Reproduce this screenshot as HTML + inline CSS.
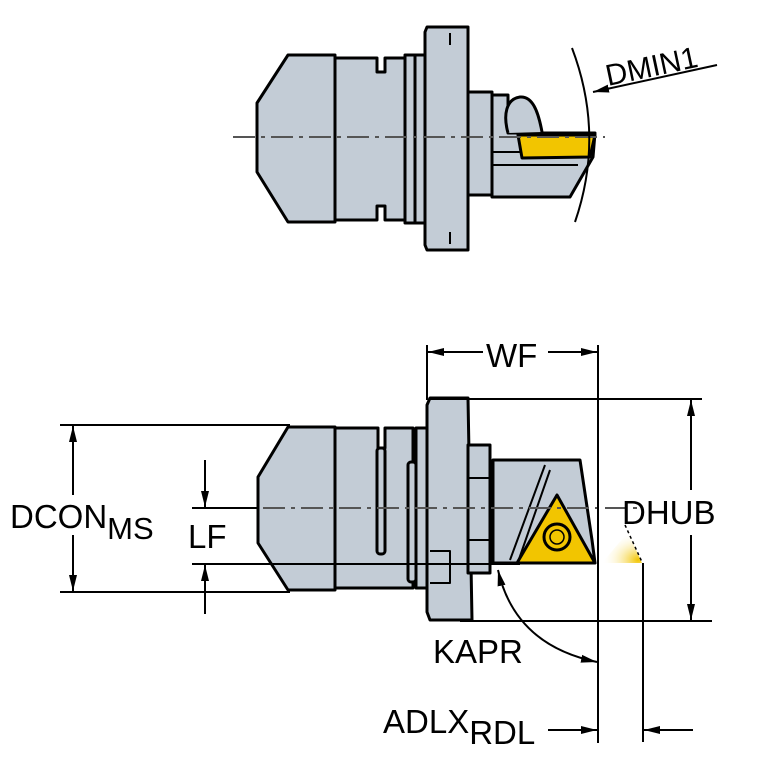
<!DOCTYPE html>
<html><head><meta charset="utf-8"><style>body{margin:0;background:#fff}svg{display:block}</style></head><body>
<svg width="767" height="767" viewBox="0 0 767 767" xmlns="http://www.w3.org/2000/svg" font-family="Liberation Sans, sans-serif">
<defs>
<marker id="b" viewBox="0 0 16 10" refX="16" refY="5" markerWidth="16" markerHeight="10" markerUnits="userSpaceOnUse" orient="auto-start-reverse"><path d="M0,1 L16,5 L0,9 z" fill="#000"/></marker>
<radialGradient id="g" cx="0.9" cy="0.9" r="0.9"><stop offset="0" stop-color="#f2c500"/><stop offset="1" stop-color="#fff" stop-opacity="0"/></radialGradient>
</defs>
<g stroke="#000" stroke-width="3" fill="#c3ccd6" stroke-linejoin="round">
<!-- TOP -->
<path d="M288,55 L257,103 L257,172 L288,222 L335,222 L335,55 Z"/>
<path d="M335,58 L377,58 L377,72 L385,72 L385,58 L405,58 L405,220 L385,220 L385,206 L377,206 L377,220 L335,220 Z"/>
<rect x="405" y="55" width="10" height="168"/>
<rect x="415" y="55" width="10" height="168"/>
<path d="M427,27 L468,27 L468,250 L427,250 L425,245 L425,32 Z"/>
<rect x="468" y="92" width="24" height="103"/>
<path d="M492,95 L508,95 L508,133 L595,133 L593,157 L570,197 L492,197 Z"/>
<path d="M508,133 C503,115 506,99 520,97 C532,96 538,110 542,132" fill="#c3ccd6"/>
<path d="M518,135 L595,135 L590,157 L522,158 Z" fill="#f2c500"/>
<path d="M492,165 L578,165" fill="none" stroke-width="2"/>
<path d="M492,152 L520,152" fill="none" stroke-width="2"/>
<path d="M450,33 L450,45 M450,232 L450,244" fill="none" stroke-width="2"/>
<!-- BOTTOM -->
<path d="M288,427 L258,477 L258,543 L288,590 L335,590 L335,427 Z"/>
<path d="M335,428 L378,428 L378,448 L385,448 L385,428 L413,428 L413,588 L335,588 Z"/>
<rect x="377" y="448" width="8" height="106" rx="3"/>
<rect x="408" y="462" width="8" height="120" rx="3"/>
<rect x="416" y="428" width="11" height="160"/>
<path d="M430,398 L468,398 L472,620 L430,620 L427,612 L427,405 Z"/>
<rect x="468" y="445" width="22" height="128"/>
<path d="M430,551 L450,551 L450,583 L430,583" fill="none" stroke-width="2"/>
<path d="M468,478 L490,478 M468,540 L490,540" fill="none" stroke-width="2"/>
<path d="M493,460 L580,460 L592,540 L595,563 L493,563 Z"/>
<path d="M510,560 L545,465 M518,562 L550,470" fill="none" stroke-width="2"/>
<path d="M557,495 L595,563 L517,563 Z" fill="#f2c500"/>
<circle cx="557" cy="537" r="13" fill="#f2c500"/>
<circle cx="557" cy="537" r="7" fill="#f2c500" stroke-width="1.5"/>
</g>
<path d="M602,563 L642,563 L628,532 Z" fill="url(#g)"/>
<path d="M625,525 L642,562" stroke="#000" stroke-width="1.5" stroke-dasharray="3,3"/>
<g stroke="#555" stroke-width="2" stroke-dasharray="22,6,4,6">
<line x1="233" y1="137" x2="605" y2="137"/>
<line x1="225" y1="508" x2="640" y2="508"/>
</g>
<g stroke="#000" stroke-width="2" fill="none">
<path d="M572,48 Q605,135 575,222"/>
<line x1="717" y1="65" x2="593" y2="92" marker-end="url(#b)"/>
<line x1="427" y1="345" x2="427" y2="400"/>
<line x1="598" y1="345" x2="598" y2="743"/>
<line x1="483" y1="352" x2="428" y2="352" marker-end="url(#b)"/>
<line x1="548" y1="352" x2="597" y2="352" marker-end="url(#b)"/>
<line x1="430" y1="399" x2="702" y2="399"/>
<line x1="460" y1="621" x2="712" y2="621"/>
<line x1="691" y1="490" x2="691" y2="400" marker-end="url(#b)"/>
<line x1="691" y1="535" x2="691" y2="620" marker-end="url(#b)"/>
<line x1="60" y1="425" x2="290" y2="425"/>
<line x1="60" y1="592" x2="290" y2="592"/>
<line x1="73" y1="495" x2="73" y2="426" marker-end="url(#b)"/>
<line x1="73" y1="535" x2="73" y2="591" marker-end="url(#b)"/>
<line x1="192" y1="508" x2="258" y2="508"/>
<line x1="192" y1="564" x2="520" y2="564"/>
<line x1="205" y1="460" x2="205" y2="507" marker-end="url(#b)"/>
<line x1="205" y1="614" x2="205" y2="565" marker-end="url(#b)"/>
<path d="M498,570 Q515,645 597,662" marker-end="url(#b)" marker-start="url(#b)"/>
<line x1="643" y1="563" x2="643" y2="742"/>
<line x1="548" y1="730" x2="597" y2="730" marker-end="url(#b)"/>
<line x1="693" y1="730" x2="644" y2="730" marker-end="url(#b)"/>
</g>
<g font-size="33" fill="#000">
<text x="608" y="86" font-size="30" transform="rotate(-12 608 86)">DMIN1</text>
<text x="486" y="367">WF</text>
<text x="622" y="524">DHUB</text>
<text x="10" y="528">DCON<tspan font-size="31" dy="11">MS</tspan></text>
<text x="188" y="548">LF</text>
<text x="433" y="663">KAPR</text>
<text x="383" y="733">ADLX<tspan dy="11">RDL</tspan></text>
</g>
</svg>
</body></html>
